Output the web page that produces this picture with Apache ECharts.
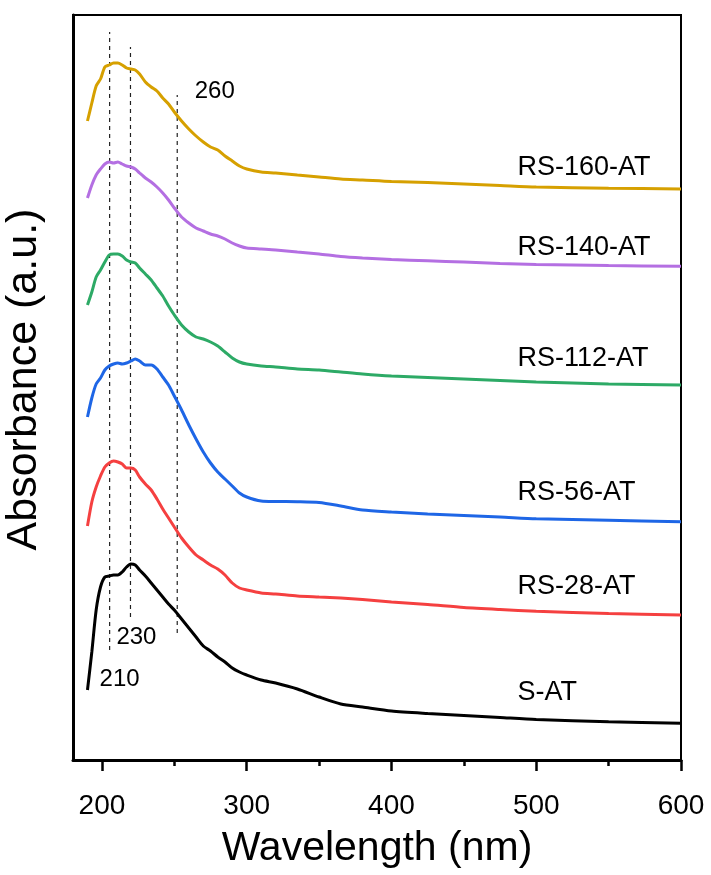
<!DOCTYPE html>
<html>
<head>
<meta charset="utf-8">
<script src="https://cdn.jsdelivr.net/npm/echarts@6/dist/echarts.min.js"></script>
<style>
html,body{margin:0;padding:0;background:#fff;}
#chart{width:711px;height:875px;}
</style>
</head>
<body>
<div id="chart"></div>
<script>
// ---------- data ----------
const wavelength = [190,193,196,199,202,205,208,211,214,217,220,223,226,230,234,238,242,246,250,255,260,265,270,275,280,285,290,295,300,310,320,335,350,365,380,400,425,450,475,500,550,600];

const rs160 = [6.39,6.57,6.74,6.81,6.93,6.95,6.97,6.97,6.95,6.92,6.91,6.90,6.86,6.78,6.73,6.69,6.62,6.56,6.48,6.39,6.31,6.24,6.18,6.13,6.10,6.04,5.99,5.94,5.91,5.88,5.87,5.85,5.83,5.81,5.80,5.785,5.775,5.76,5.745,5.73,5.718,5.71];
const rs140 = [5.62,5.75,5.85,5.91,5.96,5.98,5.97,5.98,5.96,5.94,5.93,5.91,5.87,5.82,5.78,5.73,5.67,5.60,5.52,5.43,5.37,5.32,5.29,5.26,5.24,5.21,5.17,5.14,5.12,5.11,5.10,5.08,5.06,5.035,5.02,5.005,4.992,4.98,4.965,4.955,4.945,4.937];
const rs112 = [4.55,4.68,4.83,4.90,4.98,5.05,5.06,5.06,5.04,5.00,4.98,4.97,4.92,4.86,4.80,4.72,4.64,4.54,4.45,4.35,4.28,4.23,4.21,4.18,4.14,4.08,4.02,3.98,3.96,3.94,3.93,3.91,3.90,3.88,3.86,3.84,3.825,3.81,3.795,3.78,3.76,3.75];
const rs56 = [3.43,3.62,3.76,3.82,3.90,3.94,3.96,3.97,3.96,3.97,3.99,4.01,3.99,3.95,3.95,3.91,3.83,3.75,3.64,3.50,3.35,3.21,3.08,2.97,2.88,2.81,2.74,2.67,2.63,2.59,2.585,2.583,2.575,2.54,2.50,2.48,2.46,2.445,2.43,2.412,2.397,2.383];
const rs28 = [2.34,2.58,2.73,2.84,2.93,2.97,2.99,2.98,2.96,2.92,2.92,2.90,2.83,2.76,2.70,2.61,2.51,2.42,2.33,2.22,2.13,2.05,2.00,1.95,1.91,1.85,1.77,1.72,1.70,1.67,1.66,1.64,1.63,1.62,1.605,1.58,1.555,1.525,1.505,1.488,1.465,1.45];
const sat = [0.70,1.08,1.50,1.73,1.83,1.84,1.85,1.85,1.88,1.93,1.96,1.95,1.90,1.84,1.77,1.70,1.63,1.56,1.50,1.41,1.32,1.23,1.14,1.09,1.03,0.98,0.92,0.88,0.85,0.80,0.77,0.71,0.63,0.56,0.53,0.49,0.465,0.445,0.425,0.405,0.382,0.367];

const seriesNames = ['RS-160-AT','RS-140-AT','RS-112-AT','RS-56-AT','RS-28-AT','S-AT'];
const seriesColors = ['#D6A000','#B46FE2','#2DAA66','#1E66E6','#F54040','#000000'];
const seriesLabelWl = 487;
const seriesLabelY = [5.925,5.12,4.01,2.67,1.73,0.67];

const peakLabels = ['210','230','260'];
const peakLabelWl = [212.2,223.8,277.9];
const peakLabelY = [0.81,1.225,6.69];

const markerWl = [205.3,219.7,252];
const markerLow = [1.10,1.43,1.27];
const markerHigh = [7.28,7.13,6.65];

const xMajorTicks = [200,300,400,500,600];
const xMinorTicks = [250,350,450,550];

// ---------- chart ----------
const FONT = "'Liberation Sans', Arial, sans-serif";
const values = [rs160, rs140, rs112, rs56, rs28, sat];
const chart = echarts.init(document.getElementById('chart'), null, {renderer:'canvas'});

const series = [];
markerWl.forEach((w,i)=>{
  series.push({
    type:'line', xAxisIndex:0, yAxisIndex:0, silent:true, symbol:'none',
    data:[[w,markerLow[i]],[w,markerHigh[i]]],
    lineStyle:{color:'#222', width:1.2, type:[4,4]}, z:1
  });
});
values.forEach((v,i)=>{
  series.push({
    type:'line', name:seriesNames[i], xAxisIndex:0, yAxisIndex:0, symbol:'none', smooth:0.25,
    data: wavelength.map((w,j)=>[w,v[j]]),
    lineStyle:{color:seriesColors[i], width:3}, z:3
  });
});
series.push({
  type:'scatter', xAxisIndex:0, yAxisIndex:0, symbolSize:0, silent:true,
  itemStyle:{opacity:1},
  data: seriesNames.map((n,i)=>[seriesLabelWl, seriesLabelY[i], n]),
  label:{show:true, position:'right', distance:0, formatter:p=>p.data[2], color:'#000', fontSize:27, fontFamily:FONT, align:'left', verticalAlign:'middle'}
});
series.push({
  type:'scatter', xAxisIndex:0, yAxisIndex:0, symbolSize:0, silent:true,
  itemStyle:{opacity:1},
  data: peakLabels.map((n,i)=>[peakLabelWl[i], peakLabelY[i], n]),
  label:{show:true, position:'inside', formatter:p=>p.data[2], color:'#000', fontSize:24, fontFamily:FONT, align:'center', verticalAlign:'middle'}
});

chart.setOption({
  animation:false,
  backgroundColor:'#fff',
  grid:{left:73, right:30, top:15, bottom:115, show:true, borderColor:'#000', borderWidth:2, backgroundColor:'transparent', outerBoundsMode:'none', containLabel:false},
  xAxis:[{
    type:'value', min:180, max:600,
    name:'Wavelength (nm)', nameLocation:'middle', nameGap:68,
    nameTextStyle:{fontSize:41, fontFamily:FONT, color:'#000'},
    axisLine:{show:true, onZero:false, lineStyle:{color:'#000', width:3}},
    axisTick:{show:true, inside:false, length:11, lineStyle:{color:'#000', width:2.5}, customValues:xMajorTicks},
    axisLabel:{show:true, margin:32, fontSize:28, fontFamily:FONT, color:'#000', customValues:xMajorTicks},
    splitLine:{show:false}
  },{
    type:'value', min:180, max:600, position:'bottom',
    axisLine:{show:false, onZero:false},
    axisTick:{show:true, inside:false, length:6, lineStyle:{color:'#000', width:2.5}, customValues:xMinorTicks},
    axisLabel:{show:false},
    splitLine:{show:false}
  }],
  yAxis:[{
    type:'value', min:0, max:7.45,
    name:'Absorbance (a.u.)', nameLocation:'middle', nameGap:27, nameRotate:90,
    nameTextStyle:{fontSize:43, fontFamily:FONT, color:'#000', padding:[0,0,0,16]},
    axisLine:{show:true, onZero:false, lineStyle:{color:'#000', width:3}},
    axisTick:{show:false}, axisLabel:{show:false}, splitLine:{show:false}
  }],
  series: series
});
</script>
</body>
</html>
